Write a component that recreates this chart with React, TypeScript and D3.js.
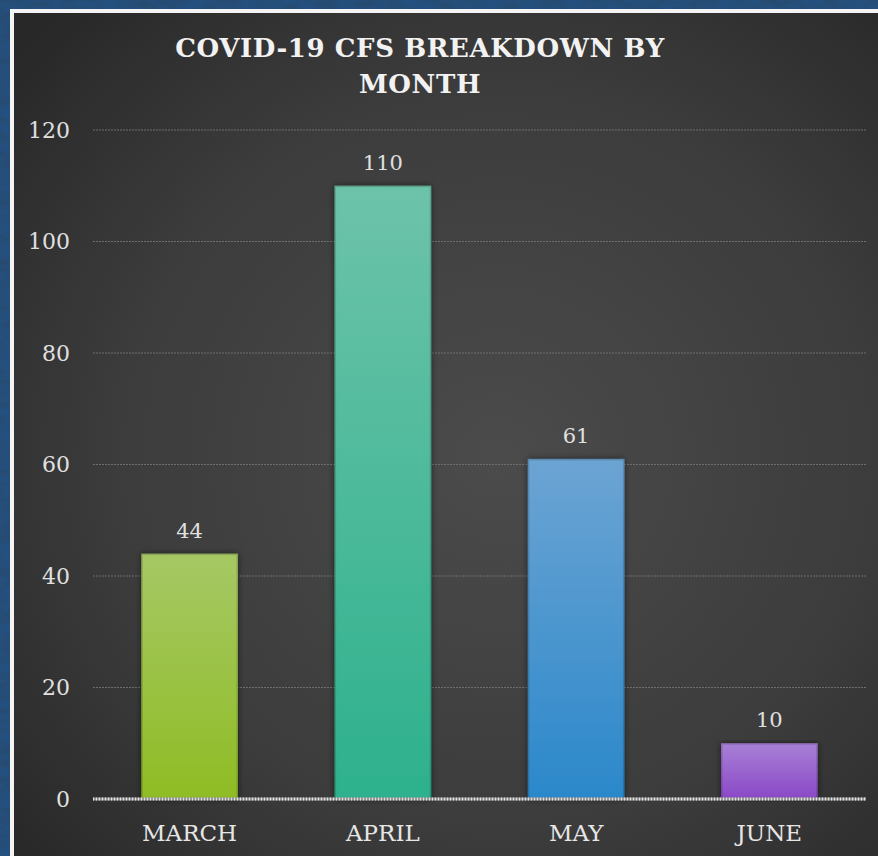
import * as d3 from "d3";

// chart values
const months = ["MARCH", "APRIL", "MAY", "JUNE"];
const counts = [44, 110, 61, 10];
const yTicks = [0, 20, 40, 60, 80, 100, 120];
const barTop = ["#a6c865", "#6dc3a9", "#6ca4d3", "#a880d6"];
const barBottom = ["#8fbc24", "#2db18d", "#2b88ca", "#8a48c6"];
const titleLines = ["COVID-19 CFS BREAKDOWN BY", "MONTH"];

export default function App() {
  const width = 878;
  const height = 856;
  const plot = { left: 93, right: 866, top: 130, bottom: 799 };

  const x = d3
    .scaleBand()
    .domain(months)
    .range([plot.left, plot.right])
    .paddingInner(0.5)
    .paddingOuter(0.25);

  const y = d3.scaleLinear().domain([0, 120]).range([plot.bottom, plot.top]);

  const serif = "'DejaVu Serif', serif";

  return (
    <svg
      width={width}
      height={height}
      style={{ position: "absolute", left: 0, top: 0, display: "block" }}
    >
      <defs>
        <filter id="tex" x="0" y="0" width="100%" height="100%">
          <feTurbulence type="fractalNoise" baseFrequency="0.05 0.12" numOctaves="4" seed="7" />
          <feColorMatrix
            type="matrix"
            values="0 0 0 0 0.02  0 0 0 0 0.07  0 0 0 0 0.16  2 0 0 0 -0.6"
          />
        </filter>
        <radialGradient id="panel" cx="0.55" cy="0.52" r="0.72">
          <stop offset="0" stopColor="#4b4b4b" />
          <stop offset="0.6" stopColor="#3c3c3c" />
          <stop offset="1" stopColor="#282828" />
        </radialGradient>
        {months.map((m, i) => (
          <linearGradient key={m} id={`bar${i}`} x1="0" y1="0" x2="0" y2="1">
            <stop offset="0" stopColor={barTop[i]} />
            <stop offset="1" stopColor={barBottom[i]} />
          </linearGradient>
        ))}
        <filter id="shadow" x="-20%" y="-5%" width="140%" height="110%">
          <feDropShadow dx="0" dy="0" stdDeviation="3" floodColor="#000" floodOpacity="0.55" />
        </filter>
      </defs>

      {/* textured blue backdrop */}
      <rect x={0} y={0} width={width} height={height} fill="#245080" />
      <rect x={0} y={0} width={width} height={height} filter="url(#tex)" />

      {/* white frame and chart panel */}
      <rect x={10} y={9} width={width} height={height} fill="#f4f4f4" />
      <rect x={14} y={13} width={width} height={height} fill="url(#panel)" />

      {/* title */}
      {titleLines.map((t, i) => (
        <text
          key={t}
          x={420}
          y={57 + i * 36}
          textAnchor="middle"
          fontFamily={serif}
          fontWeight="bold"
          fontSize={26}
          letterSpacing={0.6}
          fill="#f2f2f2"
        >
          {t}
        </text>
      ))}

      {/* gridlines */}
      {yTicks
        .filter((t) => t > 0)
        .map((t) => (
          <line
            key={t}
            x1={plot.left}
            x2={plot.right}
            y1={y(t)}
            y2={y(t)}
            stroke="#6e6e6e"
            strokeWidth={1}
            strokeDasharray="2,1"
          />
        ))}

      {/* y tick labels */}
      {yTicks.map((t) => (
        <text
          key={t}
          x={70}
          y={y(t)}
          dy="0.36em"
          textAnchor="end"
          fontFamily={serif}
          fontSize={22}
          fill="#e0e0e0"
        >
          {t}
        </text>
      ))}

      {/* bars */}
      {months.map((m, i) => (
        <g key={m}>
          <rect
            x={x(m)}
            y={y(counts[i])}
            width={x.bandwidth()}
            height={y(0) - y(counts[i])}
            fill={`url(#bar${i})`}
            filter="url(#shadow)"
          />
          <rect
            x={(x(m) as number) + 0.75}
            y={y(counts[i]) + 0.75}
            width={x.bandwidth() - 1.5}
            height={y(0) - y(counts[i]) - 1.5}
            fill="none"
            stroke="#000"
            strokeOpacity={0.15}
            strokeWidth={1.5}
          />
          <text
            x={(x(m) as number) + x.bandwidth() / 2}
            y={y(counts[i]) - 16}
            textAnchor="middle"
            fontFamily={serif}
            fontSize={21}
            fill="#e0e0e0"
          >
            {counts[i]}
          </text>
          <text
            x={(x(m) as number) + x.bandwidth() / 2}
            y={841}
            textAnchor="middle"
            fontFamily={serif}
            fontSize={23}
            fill="#e6e6e6"
          >
            {m}
          </text>
        </g>
      ))}

      {/* baseline */}
      <line
        x1={plot.left}
        x2={plot.right}
        y1={y(0)}
        y2={y(0)}
        stroke="#9a9a9a"
        strokeWidth={3}
      />
      <line
        x1={plot.left}
        x2={plot.right}
        y1={y(0)}
        y2={y(0)}
        stroke="#e0e0e0"
        strokeWidth={3}
        strokeDasharray="1,2"
      />
    </svg>
  );
}
